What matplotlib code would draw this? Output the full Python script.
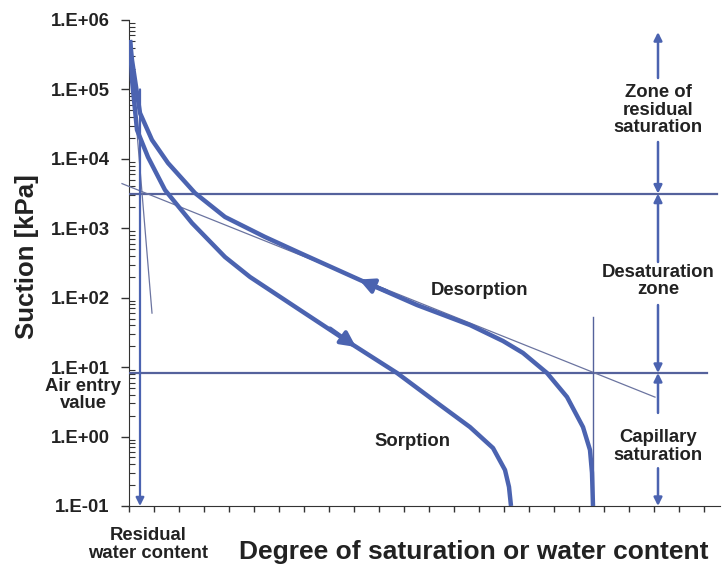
import numpy as np
import matplotlib
matplotlib.use("Agg")
import matplotlib.pyplot as plt
from matplotlib.ticker import FixedLocator, LogLocator, NullFormatter, FixedFormatter

plt.rcParams['font.family'] = ['Liberation Sans', 'DejaVu Sans']
plt.rcParams['font.weight'] = 'bold'

# water content axis (tick units), suction in kPa
desorption_x = [0.04, 0.12, 0.24, 0.44, 0.92, 1.56, 2.64, 3.84, 5.44, 6.84, 9.24,
                11.52, 13.64, 14.96, 15.76, 16.72, 17.52, 18.16, 18.44, 18.52, 18.56]
desorption_y = [5.15e5, 2.65e5, 1.37e5, 4.57e4, 1.87e4, 8710, 3220, 1456, 750, 441, 180,
                78.5, 40.4, 23.8, 16.0, 8.24, 3.72, 1.37, 0.64, 0.30, 0.1]

sorption_x = [0.04, 0.08, 0.12, 0.32, 0.76, 1.44, 2.52, 3.84, 4.84, 6.84, 8.84,
              10.72, 12.44, 13.64, 14.56, 15.04, 15.2, 15.28]
sorption_y = [5.15e5, 2.65e5, 1.37e5, 2.61e4, 1.06e4, 3560, 1190, 386, 199, 66.5, 22.3,
              8.24, 2.85, 1.37, 0.684, 0.33, 0.188, 0.1]

# direction arrows on the curves (tail, tip)
desorption_arrow = [(10.3, 124), (9.2, 183)]
sorption_arrow = [(8.04, 36), (9.08, 19.5)]

# boundary suctions
residual_suction = 3162
air_entry_suction = 8.24

# tangent construction lines
steep_tangent_x = [0.08, 0.92]
steep_tangent_y = [2.65e5, 60]
flat_tangent_x = [-0.28, 21.04]
flat_tangent_y = [4400, 3.7]
saturated_x = 18.56
saturated_top = 52.7
residual_x = 0.44
residual_top = 1.0e5

# zone arrows on the right
zone_x = 21.16
zone_arrows = [(1.46e5, 6.7e5), (1.75e4, residual_suction), (327, residual_suction),
               (78.5, air_entry_suction), (2.19, air_entry_suction), (0.35, 0.1)]

y_ticks = [0.1, 1, 10, 100, 1e3, 1e4, 1e5, 1e6]
y_tick_labels = ["1.E-01", "1.E+00", "1.E+01", "1.E+02", "1.E+03", "1.E+04", "1.E+05", "1.E+06"]

curve_color = '#4b63b0'
line_color = '#55629c'
text_color = '#222222'

fig = plt.figure(figsize=(7.23, 5.67), dpi=100)
ax = fig.add_axes([129 / 723, 61 / 567, (720 - 129) / 723, (506 - 20) / 567])

ax.set_yscale('log')
ax.set_ylim(0.1, 1e6)
ax.set_xlim(0, 23.64)

ax.plot(desorption_x, desorption_y, color=curve_color, lw=3.2, solid_capstyle='butt',
        solid_joinstyle='round', zorder=4)
ax.plot(sorption_x, sorption_y, color=curve_color, lw=3.2, solid_capstyle='butt',
        solid_joinstyle='round', zorder=4)

for tail, tip in [desorption_arrow, sorption_arrow]:
    ax.annotate('', xy=tip, xytext=tail,
                arrowprops=dict(arrowstyle='-|>', color=curve_color, lw=3,
                                mutation_scale=22, shrinkA=0, shrinkB=0), zorder=5)

ax.plot([0, 23.52], [residual_suction] * 2, color=line_color, lw=1.6, zorder=3)
ax.plot([0, 23.12], [air_entry_suction] * 2, color=line_color, lw=1.6, zorder=3)

ax.plot(steep_tangent_x, steep_tangent_y, color='#6b74a0', lw=0.9, zorder=3)
ax.plot(flat_tangent_x, flat_tangent_y, color='#6b74a0', lw=0.9, zorder=3, clip_on=False)
ax.plot([saturated_x, saturated_x], [saturated_top, 0.1], color=line_color, lw=1.0, zorder=3)

ax.annotate('', xy=(residual_x, 0.1), xytext=(residual_x, residual_top),
            arrowprops=dict(arrowstyle='-|>', color=curve_color, lw=1.6,
                            mutation_scale=12, shrinkA=0, shrinkB=0), zorder=3)

for start, end in zone_arrows:
    ax.annotate('', xy=(zone_x, end), xytext=(zone_x, start),
                arrowprops=dict(arrowstyle='-|>', color=curve_color, lw=1.8,
                                mutation_scale=12, shrinkA=0, shrinkB=0),
                annotation_clip=False)

txt = dict(fontsize=13.3, fontweight='bold', color=text_color, ha='center', va='center',
           linespacing=1.05)
ax.text(zone_x, 10 ** 4.7, "Zone of\nresidual\nsaturation", **txt)
ax.text(zone_x, 10 ** 2.24, "Desaturation\nzone", **txt)
ax.text(zone_x, 10 ** -0.14, "Capillary\nsaturation", **txt)
ax.text(14.04, 10 ** 2.1, "Desorption", **txt)
ax.text(11.32, 10 ** -0.07, "Sorption", **txt)
ax.text(-1.84, 10 ** 0.6, "Air entry\nvalue", clip_on=False, **txt)
ax.text(0.76, 10 ** -1.55, "Residual\nwater content", clip_on=False, **txt)

fig.text(474 / 723, 1 - 552 / 567, "Degree of saturation or water content",
         fontsize=19, fontweight='bold', color=text_color, ha='center', va='center')
fig.text(27 / 723, 1 - 257 / 567, "Suction [kPa]", rotation=90,
         fontsize=18.5, fontweight='bold', color=text_color, ha='center', va='center')

ax.yaxis.set_major_locator(FixedLocator(y_ticks))
ax.yaxis.set_major_formatter(FixedFormatter(y_tick_labels))
ax.yaxis.set_minor_locator(LogLocator(base=10, subs=np.arange(2, 10)))
ax.yaxis.set_minor_formatter(NullFormatter())
ax.tick_params(axis='y', which='major', direction='out', length=6, width=1,
               labelsize=13.3, pad=8, colors='#333333', labelcolor=text_color)
ax.tick_params(axis='y', which='minor', direction='in', length=4, width=0.8, colors='#333333')
ax.xaxis.set_major_locator(FixedLocator(np.arange(0, 24)))
ax.tick_params(axis='x', which='major', direction='out', length=4, width=1,
               labelbottom=False, colors='#333333')
for lab in ax.get_yticklabels():
    lab.set_fontweight('bold')

ax.spines['top'].set_visible(False)
ax.spines['right'].set_visible(False)
ax.spines['left'].set_color('#333333')
ax.spines['bottom'].set_color('#333333')

plt.savefig("out.png", dpi=100)
